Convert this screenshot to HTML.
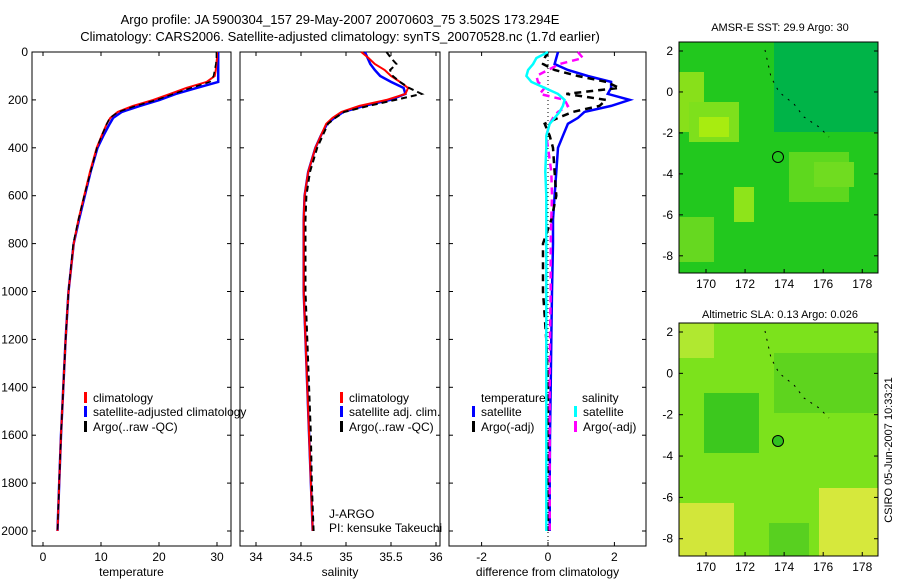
<!DOCTYPE html>
<html><head><meta charset="utf-8">
<style>
body{margin:0;background:#fff;}
svg{display:block;font-family:"Liberation Sans",sans-serif;}
</style></head>
<body>
<svg id="c" width="900" height="580" viewBox="0 0 900 580">
<text x="340" y="24" font-size="13" text-anchor="middle">Argo profile: JA 5900304_157 29-May-2007 20070603_75 3.502S 173.294E</text>
<text x="340" y="41" font-size="13" text-anchor="middle">Climatology: CARS2006. Satellite-adjusted climatology: synTS_20070528.nc (1.7d earlier)</text>
<text x="780" y="31" font-size="11" text-anchor="middle">AMSR-E SST: 29.9 Argo: 30</text>
<text x="780" y="318" font-size="11" text-anchor="middle">Altimetric SLA: 0.13 Argo: 0.026</text>
<text transform="translate(892,450) rotate(-90)" font-size="11" text-anchor="middle">CSIRO 05-Jun-2007 10:33:21</text>
<g id="layer"></g>
</svg>
<script>
// depth levels (m)
const depths=[0,25,50,75,100,125,150,175,200,225,250,275,300,350,400,500,600,700,800,1000,1200,1400,1600,1800,2000];
const tClim=[30.0,30.0,29.9,29.8,29.6,28.2,24.7,21.9,19.0,15.5,12.9,11.6,11.0,10.1,9.25,8.1,7.1,6.1,5.3,4.4,3.9,3.5,3.1,2.8,2.5];
const tSat=[30.2,30.2,30.2,30.2,30.2,30.2,26.5,22.9,20.1,16.7,13.6,12.1,11.5,10.4,9.4,8.2,7.2,6.2,5.3,4.4,3.9,3.5,3.1,2.8,2.5];
const tArgo=[29.9,29.9,29.8,29.6,29.4,28.8,25.5,22.5,19.6,16.0,13.0,11.5,11.0,10.1,9.3,8.2,7.1,6.1,5.2,4.4,3.9,3.5,3.1,2.8,2.5];
const sClim=[35.17,35.25,35.32,35.43,35.5,35.6,35.69,35.66,35.45,35.15,34.95,34.85,34.78,34.72,34.66,34.58,34.54,34.53,34.53,34.53,34.55,34.57,34.59,34.61,34.63];
const sSat=[35.21,35.24,35.27,35.32,35.38,35.5,35.64,35.66,35.49,35.2,34.97,34.87,34.79,34.72,34.66,34.58,34.54,34.53,34.53,34.53,34.55,34.57,34.59,34.61,34.63];
const sArgo=[35.45,35.5,35.56,35.49,35.52,35.6,35.7,35.84,35.55,35.25,34.98,34.88,34.8,34.74,34.68,34.6,34.56,34.55,34.55,34.55,34.57,34.59,34.61,34.62,34.64];
const dTsat=[0.3,0.25,0.2,0.6,1.2,1.9,1.9,1.8,2.46,1.9,1.1,0.9,0.6,0.45,0.3,0.25,0.2,0.15,0.15,0.12,0.1,0.08,0.06,0.05,0.05];
const dTargo=[0,-0.1,-0.15,0.2,0.9,1.75,2.15,0.55,1.75,1.55,0.75,0.3,-0.1,0.05,0.15,0.2,0.25,0.1,-0.15,-0.15,-0.05,0,0,0,0];
const dSsat=[0,-0.35,-0.45,-0.6,-0.65,-0.5,-0.1,0.3,0.5,0.45,0.35,0.2,0.05,-0.05,-0.05,-0.08,-0.05,-0.05,-0.05,-0.05,-0.05,-0.05,-0.05,-0.05,-0.05];
const dSargo=[0.9,1.05,0.35,0,-0.35,-0.3,-0.1,-0.25,0.5,0.6,0.3,0.15,0.05,-0.05,0,0.1,0.12,0.1,0.08,0.08,0.06,0.05,0.05,0.05,0.05];
const depthTicks=[0,200,400,600,800,1000,1200,1400,1600,1800,2000];
const tTicks=[0,10,20,30], sTicks=[34,34.5,35,35.5,36], dTicks=[-2,0,2];
const lonTicks=[170,172,174,176,178], latTicks=[2,0,-2,-4,-6,-8];

const NS='http://www.w3.org/2000/svg';
const L=document.getElementById('layer');
function mk(tag,at,parent){const e=document.createElementNS(NS,tag);for(const k in at)e.setAttribute(k,at[k]);(parent||L).appendChild(e);return e;}
const yD=d=>52+d*0.2395;
const panels=[
 {x0:32,x1:231,sx:v=>43+v*5.8,ticks:tTicks,label:'temperature',name:'temperature'},
 {x0:240,x1:440,sx:v=>301+(v-34.5)*90,ticks:sTicks,label:'salinity',name:'salinity'},
 {x0:449,x1:646,sx:v=>548+v*33.2,ticks:dTicks,label:'difference from climatology',name:'difference'}];
panels.forEach((p,i)=>{
 const r=mk('rect',{x:p.x0,y:52,width:p.x1-p.x0,height:494,fill:'none',stroke:'#000'});
 
 
 depthTicks.forEach(d=>{
  mk('line',{x1:p.x0,x2:p.x0+4,y1:yD(d),y2:yD(d),stroke:'#000'});
  mk('line',{x1:p.x1,x2:p.x1-4,y1:yD(d),y2:yD(d),stroke:'#000'});
  if(i==0){const t=mk('text',{x:28,y:yD(d)+4,'font-size':12,'text-anchor':'end'});t.textContent=d;
   
   }
 });
 p.ticks.forEach(v=>{const x=p.sx(v);
  mk('line',{x1:x,x2:x,y1:546,y2:542,stroke:'#000'});mk('line',{x1:x,x2:x,y1:52,y2:56,stroke:'#000'});
  const t=mk('text',{x:x,y:561,'font-size':12,'text-anchor':'middle'});t.textContent=v;
  
  });
 const xl=mk('text',{x:(p.x0+p.x1)/2,y:576,'font-size':12,'text-anchor':'middle'});xl.textContent=p.label;
 
 
});
function line(p,vals,col,w,dash,name){
 const pts=vals.map((v,k)=>p.sx(v).toFixed(1)+','+yD(depths[k]).toFixed(1)).join(' ');
 const e=mk('polyline',{points:pts,fill:'none',stroke:col,'stroke-width':w,'stroke-dasharray':dash||'none'});
 
 
}
const P=panels;
line(P[0],tSat,'#0000ff',2.5,'','temp-satellite-line');
line(P[0],tClim,'#ff0000',2,'','temp-climatology-line');
line(P[0],tArgo,'#000',1.5,'6,4','temp-argo-line');
line(P[1],sSat,'#0000ff',2.5,'','sal-satellite-line');
line(P[1],sClim,'#ff0000',2,'','sal-climatology-line');
line(P[1],sArgo,'#000',2,'6,4','sal-argo-line');
mk('line',{x1:548,x2:548,y1:52,y2:546,stroke:'#000','stroke-dasharray':'1,3'});
line(P[2],dTsat,'#0000ff',2.5,'','diff-temp-satellite-line');
line(P[2],dTargo,'#000',2.5,'7,5','diff-temp-argo-line');
line(P[2],dSargo,'#ff00ff',2.5,'7,5','diff-sal-argo-line');
line(P[2],dSsat,'#00ffff',2.5,'','diff-sal-satellite-line');
function leg(x,y,col,txt){
 mk('rect',{x:x,y:y-10,width:3,height:11,fill:col});
 const t=mk('text',{x:x+9,y:y,'font-size':12});t.textContent=txt;
 
 
}
leg(84,402,'#ff0000','climatology');leg(84,416,'#0000ff','satellite-adjusted climatology');leg(84,431,'#000','Argo(..raw -QC)');
leg(340,402,'#ff0000','climatology');leg(340,416,'#0000ff','satellite adj. clim.');leg(340,431,'#000','Argo(..raw -QC)');
const th=mk('text',{x:481,y:402,'font-size':12});th.textContent='temperature';

const sh=mk('text',{x:582,y:402,'font-size':12});sh.textContent='salinity';

leg(472,416,'#0000ff','satellite');leg(472,431,'#000','Argo(-adj)');
leg(574,416,'#00ffff','satellite');leg(574,431,'#ff00ff','Argo(-adj)');
const j1=mk('text',{x:329,y:518,'font-size':12});j1.textContent='J-ARGO';

const j2=mk('text',{x:329,y:532,'font-size':12});j2.textContent='PI: kensuke Takeuchi';


// maps
function map(y0,y1,base,patches,name,cy,cfill){
 const x0=679,x1=878;
 const lonX=v=>706+(v-170)*20.9/1.07, latY=v=>y0+9+(2-v)*(y1-y0-18)/10.4;
 const g=mk('g',{});
 
 
 mk('rect',{x:x0,y:y0,width:x1-x0,height:y1-y0,fill:base},g);
 patches.forEach(q=>mk('rect',{x:x0+q[0],y:y0+q[1],width:q[2],height:q[3],fill:q[4]},g));
 mk('polyline',{points:(x0+86)+','+(y0+8)+' '+(x0+92)+','+(y0+35)+' '+(x0+100)+','+(y0+50)+' '+(x0+115)+','+(y0+62)+' '+(x0+125)+','+(y0+75)+' '+(x0+140)+','+(y0+85)+' '+(x0+150)+','+(y0+95),fill:'none',stroke:'#000','stroke-width':1,'stroke-dasharray':'2,6'},g);
 mk('rect',{x:x0,y:y0,width:x1-x0,height:y1-y0,fill:'none',stroke:'#000'},g);
 mk('circle',{cx:778,cy:cy,r:5.5,fill:cfill,stroke:'#000'},g);
 lonTicks.forEach(v=>{const x=lonX(v);mk('line',{x1:x,x2:x,y1:y1,y2:y1-4,stroke:'#000'},g);
  const t=mk('text',{x:x,y:y1+15,'font-size':12,'text-anchor':'middle'},g);t.textContent=v;});
 latTicks.forEach(v=>{const y=latY(v);mk('line',{x1:x0,x2:x0+4,y1:y,y2:y,stroke:'#000'},g);mk('line',{x1:x1,x2:x1-4,y1:y,y2:y,stroke:'#000'},g);
  const t=mk('text',{x:x0-6,y:y+4,'font-size':12,'text-anchor':'end'},g);t.textContent=v;});
}
map(42,273,'#22c81e',[[0,30,25,60,'#88e01a'],[10,60,50,40,'#7ee01c'],[20,75,30,20,'#a8ec10'],[95,0,104,90,'#00b448'],[110,110,60,50,'#5ed81e'],[0,175,35,45,'#66d820'],[55,145,20,35,'#8ee41a'],[135,120,40,25,'#70dc20']],'sst-map',157,'none');
map(323,556,'#7ce21c',[[0,0,35,35,'#b0e830'],[95,30,104,60,'#5ed41e'],[25,70,55,60,'#3cc81e'],[0,180,55,53,'#d2e63a'],[140,165,59,68,'#d6e83c'],[90,200,40,33,'#58d020']],'sla-map',441,'#30c020');
</script>
</body></html>
